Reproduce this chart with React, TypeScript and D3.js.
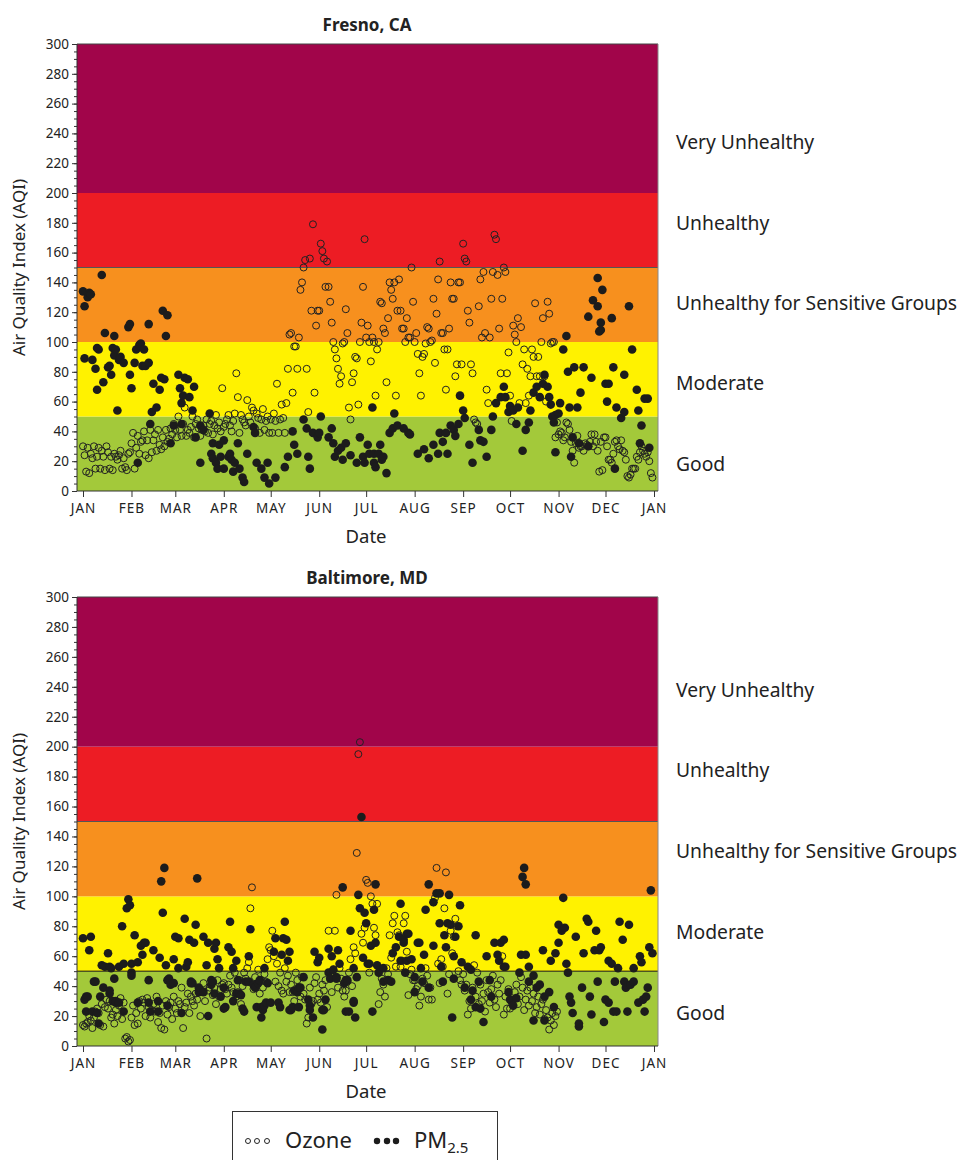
import React, { useEffect, useRef } from "react";
import * as d3 from "d3";

const W = 961;
const H = 1160;
const FONT = "'Noto Sans', sans-serif";

// AQI categories
const bandNames = ["Good", "Moderate", "Unhealthy for Sensitive Groups", "Unhealthy", "Very Unhealthy"];
const bandLows = [0, 50, 100, 150, 200];
const bandHighs = [50, 100, 150, 200, 300];
const bandColors = ["#a3c93a", "#fff200", "#f7901e", "#ed1c24", "#a1054a"];
const bandLabelAqi = [20, 74, 128, 182, 236];

const yTicks = d3.range(0, 301, 20);

// daily ozone AQI starting Jan 1 (null = no reading)
const fresnoOzone: (number | null)[] = [
  // Jan
  30, 24, 13, 29, 12, 25, 22, 30, 15, 23, 29, 15, 27, 23, 14, 30, 26, 15, 23, 14, 25, 23, 21, 24, 27, 15, 22, 16, 14, 25, 26,
  // Feb
  32, 39, 15, 29, 37, 25, 33, 34, 40, 24, 34, 22, 41, 26, 34, 38, 27, 41, 31, 28, 36, 30, 41, 33, 35, 42, 38, 45,
  // Mar
  41, 36, 50, 41, 37, 45, 56, 37, 41, 39, 43, 50, 36, 45, 48, 42, 37, 41, 44, 40, 48, 39, 45, 47, 38, 44, 51, 42, 46, 40, 69,
  // Apr
  43, 45, 48, 51, 44, 40, 47, 52, 79, 63, 39, 51, 48, 46, 44, 61, 50, 46, 56, 54, 42, 52, 49, 39, 48, 55, 41, 47, 50, 39,
  // May
  48, 39, 52, 47, 72, 39, 48, 58, 49, 39, 59, 82, 105, 106, 66, 97, 97, 82, 103, 135, 140, 150, 155, 82, 53, 156, 121, 179, 66, 111, 121,
  // Jun
  121, 166, 161, 156, 137, 154, 137, 127, 113, 100, 95, 89, 82, 72, 77, 99, 100, 122, 106, 56, 48, 73, 79, 90, 89, 58, 100, 113, 137, 169,
  // Jul
  103, 111, 100, 87, 103, 100, 64, 95, 100, 127, 126, 109, 106, 73, 116, 140, 135, 129, 140, 64, 121, 142, 121, 109, 109, 100, 116, 103, 103, 150, 127,
  // Aug
  100, 106, 92, 79, 64, 90, 92, 99, 110, 109, 100, 101, 129, 86, 119, 142, 154, 106, 106, 95, 68, 95, 109, 140, 129, 129, 77, 85, 140, 140, 85,
  // Sep
  166, 156, 154, 121, 113, 85, 79, 48, 46, 45, 124, 142, 103, 147, 106, 68, 59, 103, 129, 147, 172, 169, 145, 109, 79, 129, 150, 147, 79, 93,
  // Oct
  64, 47, 111, 105, 100, 116, 59, 110, 85, 95, 59, 82, 64, 77, 95, 90, 126, 77, 90, 77, 100, 116, 77, 60, 127, 119, 99, 100, 100, 36, 46,
  // Nov
  38, 40, 39, 34, 36, 46, 45, 41, 33, 27, 19, 32, 37, 29, 30, 30, 27, 32, 31, 30, 33, 38, 30, 38, 33, 27, 13, 33, 14, 36,
  // Dec
  36, 30, 21, 21, 19, 25, 33, 34, 30, 28, 34, 27, 26, 21, 10, 9, 11, 15, 15, 15, 23, 21, 26, 30, 27, 25, 23, 26, 20, 12, 9,
];

const baltimoreOzone: (number | null)[] = [
  // Jan
  14, 13, 15, 16, 20, 17, 12, 19, 23, 25, 22, 14, 28, 13, 26, 31, 25, 30, 19, 21, 15, 24, 20, 27, 32, 18, 29, 5, 6, 3, 4,
  // Feb
  19, 27, 14, 22, 15, 30, 25, 31, 29, 20, 32, 26, 19, 24, 28, 23, 33, 16, 22, 12, 27, 11, 30, 21, 26, 29, 18, 33,
  // Mar
  25, 22, 30, 28, 39, 12, 26, 29, 35, 22, 33, 30, 27, 35, 31, 37, 20, 37, 42, 30, 5, 37, 39, 41, 34, 39, 28, 44, 33, 38, 41,
  // Apr
  42, 38, 35, 41, 47, 39, 36, 49, 33, 36, 44, 28, 40, 49, 45, 52, 56, 92, 106, 38, 46, 40, 51, 35, 44, 39, 48, 43, 58, 66,
  // May
  64, 77, 60, 43, 55, 40, 49, 37, 35, 52, 43, 47, 36, 41, 36, 30, 49, 44, 39, 33, 46, 35, 31, 15, 19, 39, 28, 30, 42, 46, 31,
  // Jun
  35, 29, 41, 37, 44, 26, 77, 48, 36, 51, 77, 101, 39, 52, 45, 37, 33, 37, 43, 49, 58, 40, 66, 62, 129, 195, 203, 75, 69, 79,
  // Jul
  111, 109, 49, 100, 95, 79, 74, 95, 28, 36, 45, 41, 33, 52, 48, 74, 59, 82, 87, 53, 76, 74, 53, 57, 82, 87, 63, 34, 48, 51, 44,
  // Aug
  44, 38, 40, 27, 33, 45, 42, 52, 47, 31, 39, 31, 96, 99, 119, 55, 42, 58, 53, 92, 116, 35, 48, 77, 62, 73, 85, 80, 50, 44, 41,
  // Sep
  48, 37, 41, 21, 30, 25, 39, 54, 33, 49, 28, 41, 30, 35, 23, 44, 36, 29, 38, 47, 31, 26, 41, 35, 44, 60, 21, 33, 25, 38,
  // Oct
  25, 29, 31, 36, 41, 28, 33, 46, 39, 24, 31, 37, 27, 39, 30, 35, 22, 26, 33, 21, 28, 31, 18, 24, 19, 11, 17, 22, 14, 20, 23,
];

// PM2.5 readings as [day of year (0 = Jan 1), AQI]
const fresnoPm: [number, number][] = [
  [0, 134], [1, 89], [1, 124], [3, 130], [4, 133], [5, 132], [6, 88], [8, 82], [9, 68], [9, 96], [10, 95], [12, 145],
  [13, 73], [14, 106], [16, 83], [17, 84], [18, 78], [19, 96], [20, 104], [20, 91], [21, 95], [22, 54], [23, 88], [24, 90],
  [26, 86], [29, 110], [30, 112], [30, 78], [31, 69], [33, 86], [34, 95], [35, 19], [36, 98], [37, 99], [38, 84], [39, 95],
  [40, 84], [42, 86], [42, 112], [43, 45], [44, 53], [45, 72], [47, 56], [49, 68], [50, 76], [51, 121], [52, 75], [53, 104],
  [54, 118], [56, 32], [58, 44], [61, 78], [62, 69], [63, 59], [63, 45], [64, 64], [65, 76], [67, 75], [68, 63], [70, 54],
  [71, 70], [72, 36], [75, 44], [75, 19], [77, 41], [81, 52], [82, 25], [83, 32], [83, 22], [85, 19], [86, 15], [87, 31],
  [88, 23], [90, 34], [90, 15], [93, 23], [94, 25], [95, 21], [96, 13], [97, 19], [99, 32], [100, 15], [102, 9], [103, 6],
  [105, 25], [109, 43], [110, 39], [111, 19], [114, 15], [116, 9], [118, 19], [119, 5], [123, 9], [129, 16], [131, 23],
  [134, 40], [135, 31], [137, 25], [141, 48], [143, 42], [144, 23], [145, 15], [147, 39], [150, 36], [151, 39], [152, 50],
  [157, 36], [159, 42], [160, 32], [161, 23], [163, 27], [165, 29], [166, 21], [168, 32], [171, 24], [175, 19], [177, 36],
  [179, 23], [180, 19], [182, 31], [183, 25], [185, 56], [186, 25], [186, 19], [187, 16], [189, 25], [190, 31], [191, 21],
  [192, 23], [194, 12], [196, 39], [198, 42], [199, 52], [201, 44], [205, 42], [208, 39], [209, 38], [214, 25], [218, 28],
  [221, 22], [224, 31], [227, 25], [228, 39], [230, 33], [232, 39], [233, 25], [235, 44], [237, 41], [238, 37], [240, 45],
  [241, 64], [243, 54], [244, 49], [247, 31], [249, 19], [253, 41], [254, 34], [256, 33], [258, 23], [261, 41], [262, 50],
  [264, 59], [267, 63], [269, 70], [270, 63], [272, 53], [273, 57], [275, 54], [277, 45], [278, 56], [281, 27], [283, 41],
  [285, 46], [286, 54], [288, 66], [290, 70], [292, 63], [294, 72], [295, 78], [297, 70], [298, 63], [299, 58], [300, 50],
  [301, 46], [302, 51], [302, 26], [304, 52], [305, 59], [307, 95], [309, 104], [310, 80], [311, 56], [312, 23], [313, 36],
  [314, 83], [316, 56], [317, 32], [318, 66], [320, 83], [323, 30], [323, 117], [325, 76], [326, 128], [329, 143], [329, 124],
  [330, 107], [331, 113], [331, 108], [332, 135], [334, 72], [335, 60], [336, 72], [338, 116], [339, 83], [340, 15], [341, 56],
  [344, 49], [346, 53], [346, 78], [349, 124], [351, 95], [354, 68], [355, 54], [356, 32], [357, 44], [359, 62], [361, 62],
  [362, 29],
];

const baltimorePm: [number, number][] = [
  [0, 72], [1, 31], [2, 23], [2, 33], [3, 33], [4, 64], [5, 73], [6, 23], [7, 43], [8, 43], [9, 22], [10, 15], [11, 33],
  [12, 54], [13, 39], [14, 53], [16, 62], [17, 53], [17, 35], [17, 37], [18, 52], [19, 30], [20, 45], [21, 29], [21, 30],
  [23, 53], [23, 29], [25, 80], [26, 23], [26, 55], [28, 92], [29, 98], [30, 94], [31, 49], [31, 55], [31, 47], [33, 74],
  [35, 56], [35, 29], [37, 67], [38, 61], [39, 69], [40, 69], [42, 44], [42, 29], [43, 23], [45, 64], [48, 30], [48, 23],
  [49, 59], [50, 110], [51, 89], [52, 119], [53, 54], [54, 44], [54, 27], [55, 45], [56, 41], [58, 42], [58, 58], [59, 73],
  [61, 72], [61, 52], [63, 22], [65, 85], [66, 53], [67, 56], [68, 71], [69, 43], [69, 42], [70, 42], [71, 69], [72, 81],
  [73, 112], [74, 36], [74, 39], [77, 36], [77, 73], [79, 54], [80, 69], [80, 20], [82, 41], [82, 44], [83, 43], [84, 65],
  [84, 35], [85, 69], [86, 58], [87, 52], [88, 33], [90, 39], [90, 25], [91, 26], [93, 66], [94, 83], [95, 63], [96, 52],
  [96, 30], [98, 35], [98, 57], [99, 44], [100, 35], [101, 34], [102, 25], [103, 23], [104, 43], [106, 60], [106, 43],
  [107, 78], [109, 41], [110, 39], [111, 26], [112, 42], [113, 44], [114, 19], [114, 26], [115, 24], [116, 52], [116, 27],
  [117, 29], [118, 42], [120, 29], [122, 63], [123, 72], [125, 29], [126, 26], [127, 61], [128, 72], [129, 83], [130, 71],
  [131, 57], [132, 63], [132, 24], [133, 24], [134, 26], [135, 37], [137, 36], [138, 26], [138, 39], [139, 39], [141, 46],
  [144, 31], [145, 27], [145, 24], [147, 19], [148, 63], [150, 56], [151, 59], [153, 11], [153, 24], [154, 24], [155, 31],
  [157, 49], [157, 65], [158, 45], [159, 60], [160, 51], [162, 46], [162, 45], [163, 64], [164, 55], [166, 106], [167, 42],
  [168, 23], [168, 44], [169, 44], [170, 23], [171, 77], [173, 52], [173, 29], [174, 19], [173, 30], [175, 46], [176, 101],
  [177, 92], [178, 153], [179, 59], [180, 89], [181, 82], [182, 55], [183, 55], [184, 67], [185, 23], [186, 91], [187, 108],
  [187, 69], [188, 54], [189, 49], [192, 52], [192, 43], [195, 44], [197, 43], [198, 62], [200, 66], [202, 73], [203, 95],
  [203, 57], [205, 71], [205, 69], [206, 49], [207, 57], [207, 75], [208, 75], [210, 58], [212, 46], [212, 36], [214, 69],
  [215, 69], [216, 52], [217, 43], [218, 61], [219, 91], [221, 108], [221, 39], [224, 67], [224, 96], [226, 102], [228, 102],
  [228, 82], [229, 53], [230, 43], [231, 74], [232, 66], [233, 82], [234, 101], [235, 81], [236, 19], [237, 45], [237, 60],
  [238, 73], [240, 80], [241, 94], [242, 56], [244, 39], [246, 53], [248, 51], [248, 31], [249, 37], [251, 74], [251, 26],
  [253, 43], [254, 25], [256, 16], [258, 60], [260, 44], [261, 33], [263, 69], [265, 61], [266, 57], [267, 69], [269, 53],
  [269, 71], [270, 53], [272, 36], [273, 31], [275, 27], [277, 32], [279, 49], [280, 61], [281, 113], [282, 119], [283, 108],
  [283, 61], [285, 43], [285, 53], [288, 47], [288, 17], [290, 39], [292, 41], [294, 64], [295, 33], [295, 17], [298, 36],
  [299, 57], [301, 26], [302, 62], [304, 69], [304, 81], [306, 77], [307, 99], [308, 79], [309, 55], [310, 49], [311, 33],
  [312, 29], [313, 22], [315, 73], [317, 13], [317, 15], [319, 39], [320, 62], [322, 85], [323, 83], [324, 33], [325, 21],
  [327, 64], [328, 77], [329, 43], [330, 64], [331, 66], [333, 16], [334, 31], [336, 29], [336, 57], [338, 55], [339, 23],
  [340, 43], [341, 23], [342, 52], [343, 83], [345, 71], [346, 43], [347, 39], [348, 23], [349, 81], [350, 41], [352, 43],
  [352, 52], [355, 29], [356, 60], [357, 56], [358, 31], [359, 23], [360, 33], [361, 39], [362, 66], [363, 104], [364, 62],
];

// layout of the two panels
const panels = [
  { title: "Fresno, CA", top: 44, bottom: 491, ozone: fresnoOzone, pm: fresnoPm, rules: [150], labelNudge: 3 },
  { title: "Baltimore, MD", top: 597, bottom: 1046, ozone: baltimoreOzone, pm: baltimorePm, rules: [50, 150], labelNudge: -3 },
];

const plotLeft = 77;
const plotRight = 658;
const year0 = new Date(Date.UTC(2005, 0, 1));
const year1 = new Date(Date.UTC(2006, 0, 1));
const dayToDate = (d: number) => new Date(Date.UTC(2005, 0, 1 + d));

const App = () => {
  const svgRef = useRef<SVGSVGElement>(null);

  useEffect(() => {
    const svg = d3.select(svgRef.current);
    svg.selectAll("*").remove();

    const x = d3.scaleUtc().domain([year0, year1]).range([83, 654]);

    panels.forEach((p) => {
      const y = d3.scaleLinear().domain([0, 300]).range([p.bottom, p.top]);
      const g = svg.append("g");

      // AQI category bands
      g.selectAll("rect.band")
        .data(bandNames)
        .join("rect")
        .attr("class", "band")
        .attr("x", plotLeft)
        .attr("width", plotRight - plotLeft)
        .attr("y", (d, i) => y(bandHighs[i]))
        .attr("height", (d, i) => y(bandLows[i]) - y(bandHighs[i]))
        .attr("fill", (d, i) => bandColors[i]);

      g.selectAll("line.rule")
        .data(p.rules)
        .join("line")
        .attr("x1", plotLeft)
        .attr("x2", plotRight)
        .attr("y1", (d) => y(d))
        .attr("y2", (d) => y(d))
        .attr("stroke", (d) => (d === 50 ? "#111" : "#555"))
        .attr("stroke-width", 1);

      // frame
      g.append("line").attr("x1", plotLeft).attr("x2", plotRight).attr("y1", p.top).attr("y2", p.top).attr("stroke", "#444");
      g.append("line").attr("x1", plotRight).attr("x2", plotRight).attr("y1", p.top).attr("y2", p.bottom).attr("stroke", "#888");

      // ozone (open) then PM2.5 (filled)
      const oz = p.ozone.map((v, i) => [i, v] as [number, number | null]).filter((d) => d[1] != null);
      g.append("g")
        .selectAll("circle")
        .data(oz)
        .join("circle")
        .attr("cx", (d) => x(dayToDate(d[0])))
        .attr("cy", (d) => y(d[1] as number))
        .attr("r", 3.5)
        .attr("fill", "none")
        .attr("stroke", "#222")
        .attr("stroke-width", 1);

      g.append("g")
        .selectAll("circle")
        .data(p.pm)
        .join("circle")
        .attr("cx", (d) => x(dayToDate(d[0])))
        .attr("cy", (d) => y(d[1]))
        .attr("r", 4.3)
        .attr("fill", "#1c1c1c");

      // y axis
      const yMinor = g.append("g").attr("transform", `translate(${plotLeft},0)`)
        .call(d3.axisLeft(y).tickValues(d3.range(0, 301, 5)).tickSize(3).tickFormat(() => ""));
      yMinor.select(".domain").remove();
      const yAxis = g.append("g").attr("transform", `translate(${plotLeft},0)`)
        .call(d3.axisLeft(y).tickValues(yTicks).tickSize(5).tickPadding(3));
      yAxis.select(".domain").remove();
      yAxis.selectAll("text").attr("font-family", FONT).attr("font-size", 13.5).attr("fill", "#222");
      svg.selectAll(".tick line").attr("stroke", "#333");
      g.append("line").attr("x1", plotLeft).attr("x2", plotLeft).attr("y1", p.top).attr("y2", p.bottom).attr("stroke", "#333");

      // x axis
      const xAxis = g.append("g").attr("transform", `translate(0,${p.bottom})`)
        .call(
          d3.axisBottom(x)
            .ticks(d3.utcMonth.every(1))
            .tickSize(6)
            .tickPadding(6)
            .tickFormat((d) => d3.utcFormat("%b")(d as Date).toUpperCase())
        );
      xAxis.select(".domain").remove();
      xAxis.selectAll("text").attr("font-family", FONT).attr("font-size", 13.5).attr("fill", "#222").attr("letter-spacing", 1);
      xAxis.selectAll("line").attr("stroke", "#333");
      g.append("line").attr("x1", plotLeft).attr("x2", plotRight).attr("y1", p.bottom).attr("y2", p.bottom).attr("stroke", "#333");

      // titles
      g.append("text")
        .attr("x", 367).attr("y", p.top - 13)
        .attr("text-anchor", "middle").attr("font-family", FONT).attr("font-weight", "bold")
        .attr("font-size", 17).attr("fill", "#222").text(p.title);
      g.append("text")
        .attr("transform", `translate(25,${(p.top + p.bottom) / 2}) rotate(-90)`)
        .attr("text-anchor", "middle").attr("font-family", FONT)
        .attr("font-size", 17).attr("fill", "#222").text("Air Quality Index (AQI)");
      g.append("text")
        .attr("x", 366).attr("y", p.bottom + 52)
        .attr("text-anchor", "middle").attr("font-family", FONT)
        .attr("font-size", 18.5).attr("fill", "#222").text("Date");

      // category labels
      g.selectAll("text.cat")
        .data(bandNames)
        .join("text")
        .attr("class", "cat")
        .attr("x", 676)
        .attr("y", (d, i) => y(bandLabelAqi[i]) + p.labelNudge)
        .attr("dy", "0.35em")
        .attr("font-family", FONT)
        .attr("font-size", 19.3)
        .attr("fill", "#222")
        .text((d) => d);
    });

    // legend
    const lg = svg.append("g");
    lg.append("rect").attr("x", 232.5).attr("y", 1111.5).attr("width", 265).attr("height", 60)
      .attr("fill", "white").attr("stroke", "#333");
    lg.selectAll("circle.oz").data([248, 257, 267]).join("circle").attr("class", "oz")
      .attr("cx", (d) => d).attr("cy", 1141).attr("r", 2.5)
      .attr("fill", "none").attr("stroke", "#222").attr("stroke-width", 1);
    lg.append("text").attr("x", 285).attr("y", 1148).attr("font-family", FONT).attr("font-size", 22)
      .attr("fill", "#222").text("Ozone");
    lg.selectAll("circle.pm").data([377, 387, 396]).join("circle").attr("class", "pm")
      .attr("cx", (d) => d).attr("cy", 1141).attr("r", 3.2).attr("fill", "#1c1c1c");
    const pmText = lg.append("text").attr("x", 414).attr("y", 1148).attr("font-family", FONT)
      .attr("font-size", 22).attr("fill", "#222");
    pmText.append("tspan").text("PM");
    pmText.append("tspan").attr("font-size", 15).attr("dy", 5).text("2.5");
  }, []);

  return (
    <svg
      ref={svgRef}
      width={W}
      height={H}
      viewBox={`0 0 ${W} ${H}`}
      style={{ position: "absolute", left: 0, top: 0, background: "white" }}
    />
  );
};

export default App;
